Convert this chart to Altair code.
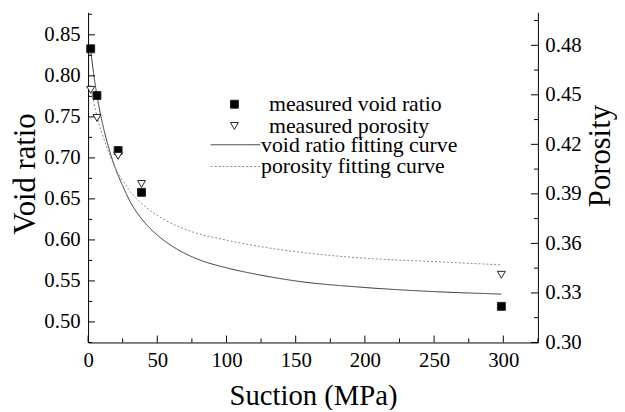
import altair as alt
import pandas as pd

# ---- data ----
suction_meas = [1.9, 6.4, 21.7, 38.6, 298.6]
void_ratio_meas = [0.833, 0.776, 0.709, 0.658, 0.519]
porosity_meas = [0.453, 0.436, 0.413, 0.396, 0.341]

fit_void_x = [1.5, 4, 6.4, 10, 15, 20, 25, 30, 40, 50, 64, 80, 100, 125, 150, 200, 250, 298.6]
fit_void_y = [0.836, 0.803, 0.776, 0.745, 0.712, 0.686, 0.666, 0.648, 0.623, 0.606, 0.589,
              0.576, 0.566, 0.557, 0.550, 0.542, 0.537, 0.534]

fit_por_x = [1.5, 4, 6.4, 10, 15, 20, 25, 30, 36.4, 50, 72, 100, 125, 150, 200, 250, 298.6]
fit_por_y = [0.456, 0.446, 0.437, 0.427, 0.415, 0.405, 0.398, 0.392, 0.386, 0.377, 0.368,
             0.362, 0.358, 0.355, 0.351, 0.349, 0.347]

x_major = [0, 50, 100, 150, 200, 250, 300]
x_minor = [25, 75, 125, 175, 225, 275, 325]
left_major = [0.50, 0.55, 0.60, 0.65, 0.70, 0.75, 0.80, 0.85]
left_minor = [0.475, 0.525, 0.575, 0.625, 0.675, 0.725, 0.775, 0.825, 0.875]
right_major = [0.30, 0.33, 0.36, 0.39, 0.42, 0.45, 0.48]
right_minor = [0.315, 0.345, 0.375, 0.405, 0.435, 0.465, 0.495]

S_VOID = "measured void ratio"
S_POR = "measured porosity"
F_VOID = "void ratio fitting curve"
F_POR = "porosity fitting curve"

FONT = "Liberation Serif, Times New Roman, DejaVu Serif, serif"
W, H = 455, 334

df_void = pd.DataFrame({"s": suction_meas, "v": void_ratio_meas, "series": S_VOID})
df_por = pd.DataFrame({"s": suction_meas, "v": porosity_meas, "series": S_POR})
df_fv = pd.DataFrame({"s": fit_void_x, "v": fit_void_y, "series": F_VOID})
df_fp = pd.DataFrame({"s": fit_por_x, "v": fit_por_y, "series": F_POR})

xscale = alt.Scale(domain=[0, 325], nice=False, zero=False)
ylscale = alt.Scale(domain=[0.475, 0.8775], nice=False, zero=False)
yrscale = alt.Scale(domain=[0.30, 0.50], nice=False, zero=False)

common_axis = dict(labelFont=FONT, titleFont=FONT, titleFontWeight="normal", labelColor="black",
                   titleColor="black", domainColor="black", domainWidth=1, grid=False,
                   ticks=False)

x_axis = alt.Axis(values=x_major, format="d", labelPadding=7, labelFlush=False,
                  labelFontSize=21, title="Suction (MPa)", titleFontSize=29, titlePadding=12,
                  **common_axis)
yl_axis = alt.Axis(values=left_major, format=".2f", orient="left", labelPadding=8,
                   labelFontSize=21, title="Void ratio", titleFontSize=31, titlePadding=2,
                   titleY=163, **common_axis)
yr_axis = alt.Axis(values=right_major, format=".2f", orient="right", labelPadding=7,
                   labelFontSize=21, title="Porosity", titleFontSize=31, titlePadding=5,
                   titleAngle=270, titleBaseline="top", titleY=145, **common_axis)

pt_legend = alt.Legend(title=None, orient="none", legendX=137, legendY=82, labelFont=FONT,
                       labelFontSize=22, labelColor="black", symbolSize=64,
                       symbolStrokeWidth=1, rowPadding=-6, labelOffset=24, padding=0,
                       labelLimit=400)
ln_legend = alt.Legend(title=None, orient="none", legendX=138, legendY=123, labelFont=FONT,
                       labelFontSize=22, labelColor="black", symbolType="M-5,0H5",
                       symbolSize=100, symbolStrokeWidth=1, rowPadding=-3, labelOffset=15,
                       padding=0, labelLimit=400)

shape_scale = alt.Scale(domain=[S_VOID, S_POR], range=["square", "triangle-down"])
fill_scale = alt.Scale(domain=[S_VOID, S_POR], range=["black", "white"])
color_scale = alt.Scale(domain=[S_VOID, S_POR], range=["#222222", "#222222"])
dash_scale = alt.Scale(domain=[F_VOID, F_POR], range=[[1, 0], [2, 2]])
stroke_scale = alt.Scale(domain=[F_VOID, F_POR], range=["#333333", "#888888"])


def points(df, yscale, yaxis):
    return alt.Chart(df).mark_point(filled=False, strokeWidth=1, opacity=1, size=64).encode(
        x=alt.X("s:Q", scale=xscale, axis=x_axis),
        y=alt.Y("v:Q", scale=yscale, axis=yaxis),
        shape=alt.Shape("series:N", scale=shape_scale, legend=pt_legend),
        fill=alt.Fill("series:N", scale=fill_scale, legend=pt_legend),
        color=alt.Color("series:N", scale=color_scale, legend=pt_legend),
    )


def curve(df, yscale, yaxis):
    return alt.Chart(df).mark_line(strokeWidth=1, interpolate="monotone").encode(
        x=alt.X("s:Q", scale=xscale, axis=x_axis),
        y=alt.Y("v:Q", scale=yscale, axis=yaxis),
        strokeDash=alt.StrokeDash("series:N", scale=dash_scale, legend=ln_legend),
        stroke=alt.Stroke("series:N", scale=stroke_scale, legend=ln_legend),
    )


def xticks(vals, length):
    return alt.Chart(pd.DataFrame({"t": vals})).mark_rule(color="black", strokeWidth=1).encode(
        x=alt.X("t:Q", scale=xscale, axis=x_axis),
        y=alt.value(H),
        y2=alt.value(H - length),
    )


def yticks(vals, length, yscale, yaxis, side):
    if side == "left":
        x0, x1 = 0, length
    else:
        x0, x1 = W, W - length
    return alt.Chart(pd.DataFrame({"t": vals})).mark_rule(color="black", strokeWidth=1).encode(
        y=alt.Y("t:Q", scale=yscale, axis=yaxis),
        x=alt.value(x0),
        x2=alt.value(x1),
    )


left_group = alt.layer(
    curve(df_fv, ylscale, yl_axis),
    points(df_void, ylscale, yl_axis),
    yticks(left_major, 7, ylscale, yl_axis, "left"),
    yticks(left_minor, 4, ylscale, yl_axis, "left"),
    xticks(x_major, 7),
    xticks(x_minor, 4),
)

right_group = alt.layer(
    curve(df_fp, yrscale, yr_axis),
    points(df_por, yrscale, yr_axis),
    yticks(right_major, 7, yrscale, yr_axis, "right"),
    yticks(right_minor, 4, yrscale, yr_axis, "right"),
)

chart = alt.layer(left_group, right_group).resolve_scale(y="independent").properties(
    width=W, height=H,
    padding={"left": 81, "top": 2, "right": 80, "bottom": 66},
    autosize=alt.AutoSizeParams(type="none"),
    background="white",
).configure(font=FONT).configure_view(strokeWidth=0).configure_axis(
    grid=False, domainColor="black", domainWidth=1, labelFont=FONT, titleFont=FONT,
    titleFontWeight="normal", labelColor="black", titleColor="black",
).configure_legend(labelFont=FONT)

chart.save("out.html", embed_options={"renderer": "svg", "actions": False})
